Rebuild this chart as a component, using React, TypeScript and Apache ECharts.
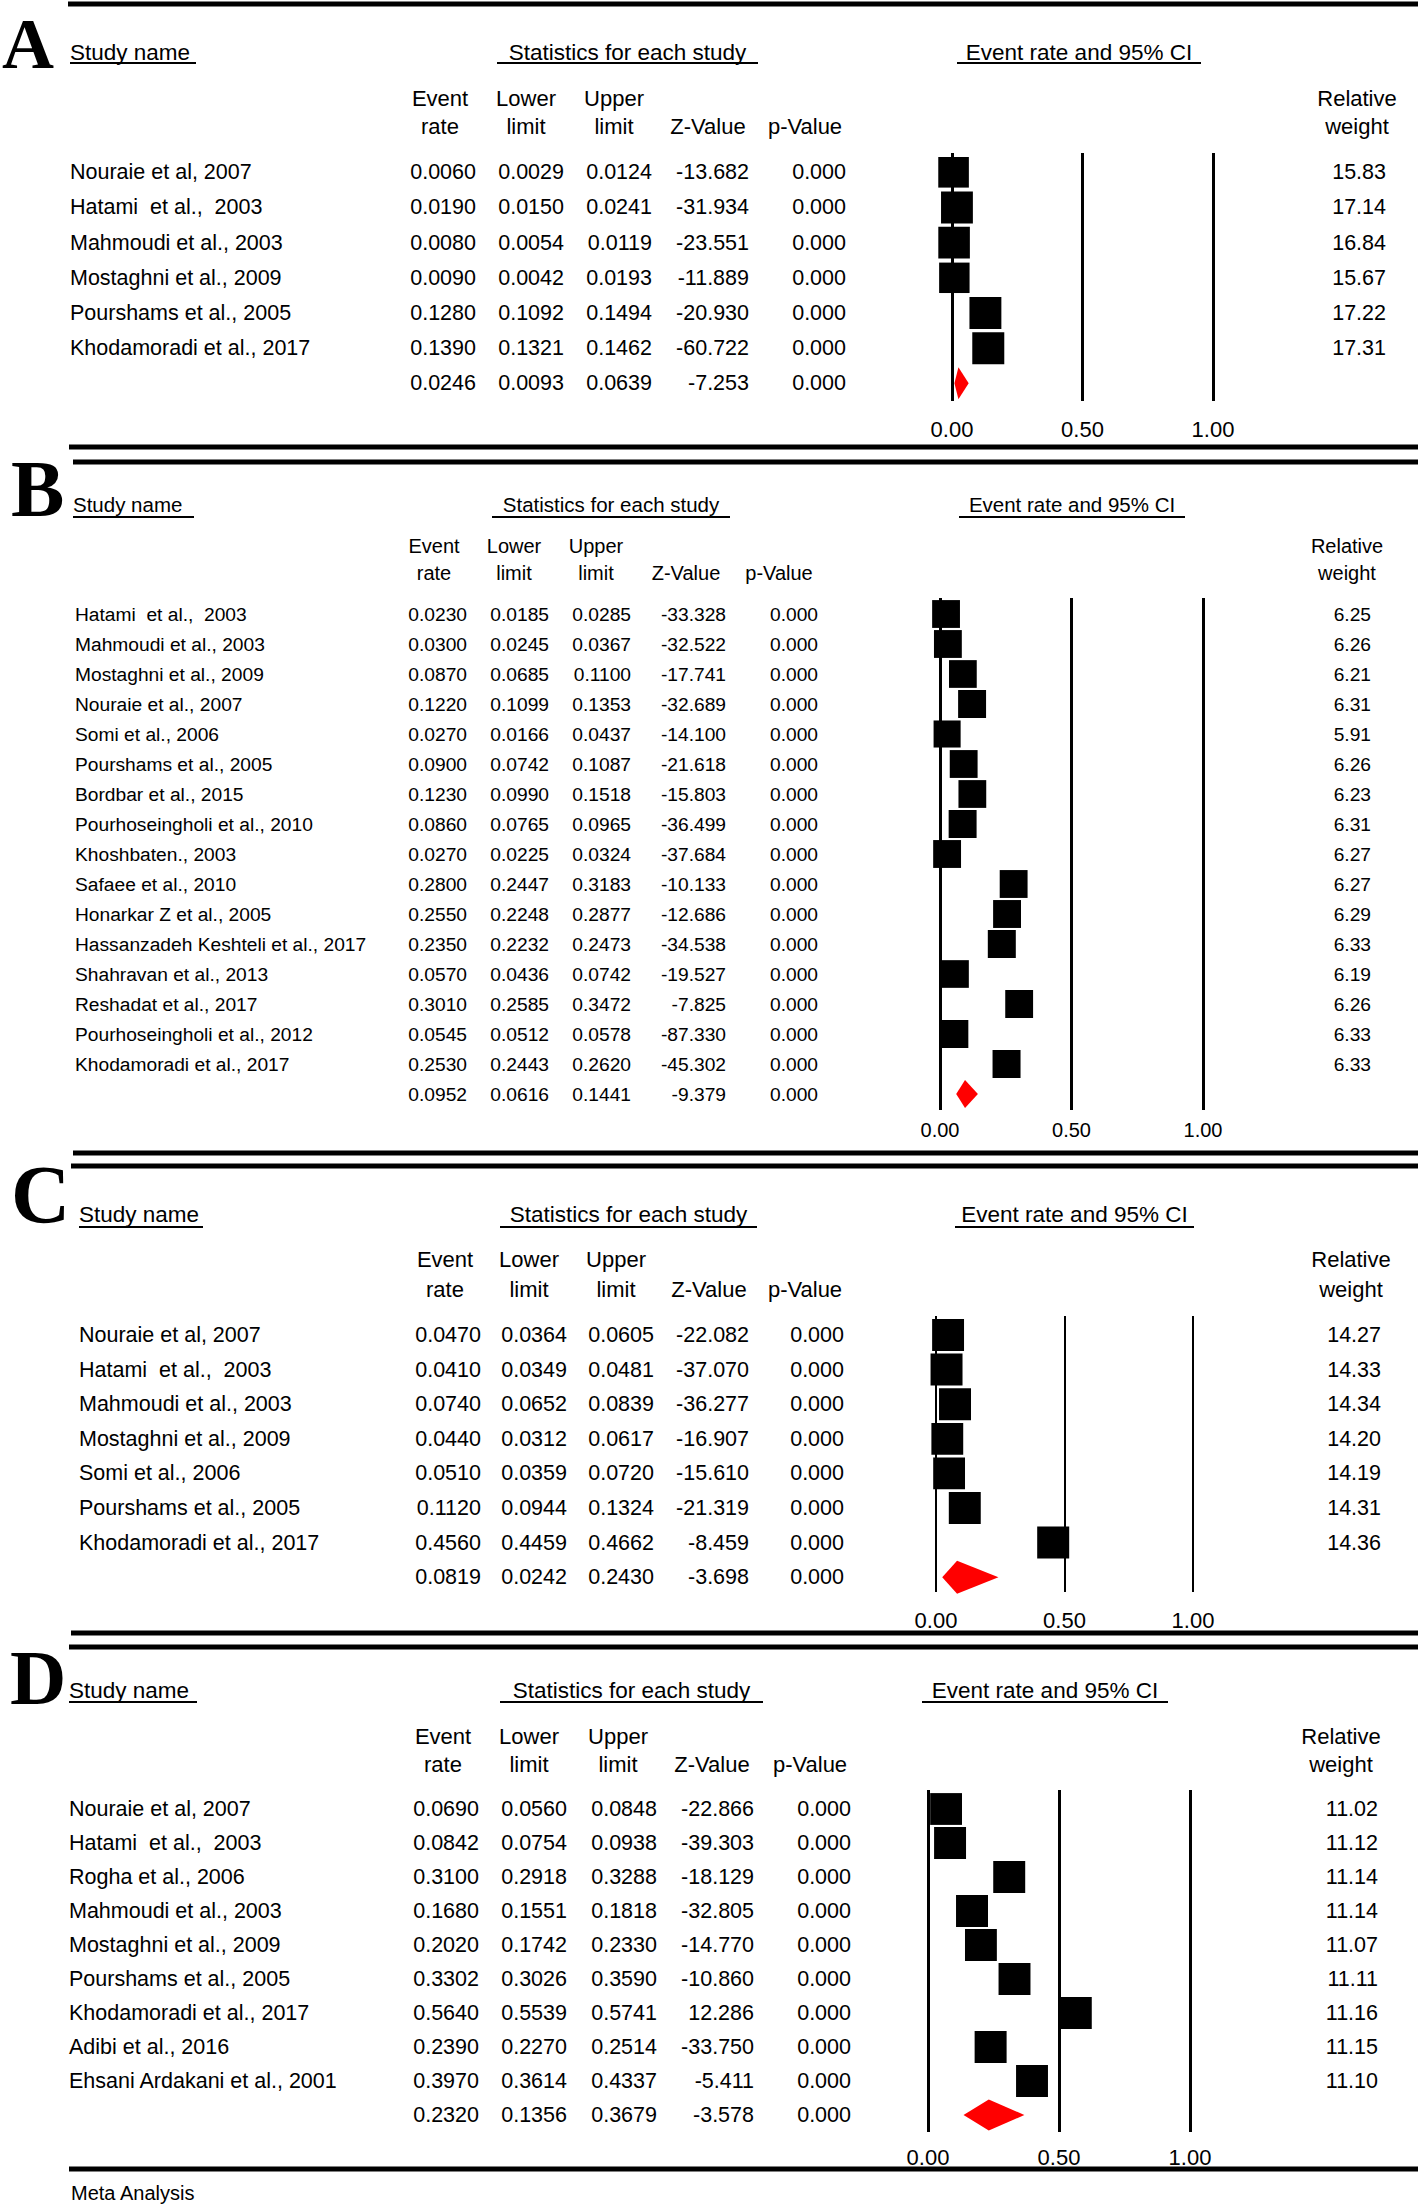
import React, { useEffect, useRef } from "react";
import * as echarts from "echarts";

const PAGE_W = 1418;
const PAGE_H = 2207;
const SANS = '"Liberation Sans", Arial, Helvetica, sans-serif';
const SERIF = '"Liberation Serif", "Times New Roman", Times, serif';

// ---------------- Panel A ----------------
const namesA = ["Nouraie et al, 2007", "Hatami  et al.,  2003", "Mahmoudi et al., 2003", "Mostaghni et al., 2009", "Pourshams et al., 2005", "Khodamoradi et al., 2017"];
const rateA = [0.006, 0.019, 0.008, 0.009, 0.128, 0.139];
const lowerA = [0.0029, 0.015, 0.0054, 0.0042, 0.1092, 0.1321];
const upperA = [0.0124, 0.0241, 0.0119, 0.0193, 0.1494, 0.1462];
const zA = [-13.682, -31.934, -23.551, -11.889, -20.93, -60.722];
const pA = [0, 0, 0, 0, 0, 0];
const weightA = [15.83, 17.14, 16.84, 15.67, 17.22, 17.31];
const summaryA = [0.0246, 0.0093, 0.0639, -7.253, 0];

// ---------------- Panel B ----------------
const namesB = ["Hatami  et al.,  2003", "Mahmoudi et al., 2003", "Mostaghni et al., 2009", "Nouraie et al., 2007", "Somi et al., 2006", "Pourshams et al., 2005", "Bordbar et al., 2015", "Pourhoseingholi et al., 2010", "Khoshbaten., 2003", "Safaee et al., 2010", "Honarkar Z et al., 2005", "Hassanzadeh Keshteli et al., 2017", "Shahravan et al., 2013", "Reshadat et al., 2017", "Pourhoseingholi et al., 2012", "Khodamoradi et al., 2017"];
const rateB = [0.023, 0.03, 0.087, 0.122, 0.027, 0.09, 0.123, 0.086, 0.027, 0.28, 0.255, 0.235, 0.057, 0.301, 0.0545, 0.253];
const lowerB = [0.0185, 0.0245, 0.0685, 0.1099, 0.0166, 0.0742, 0.099, 0.0765, 0.0225, 0.2447, 0.2248, 0.2232, 0.0436, 0.2585, 0.0512, 0.2443];
const upperB = [0.0285, 0.0367, 0.11, 0.1353, 0.0437, 0.1087, 0.1518, 0.0965, 0.0324, 0.3183, 0.2877, 0.2473, 0.0742, 0.3472, 0.0578, 0.262];
const zB = [-33.328, -32.522, -17.741, -32.689, -14.1, -21.618, -15.803, -36.499, -37.684, -10.133, -12.686, -34.538, -19.527, -7.825, -87.33, -45.302];
const pB = [0, 0, 0, 0, 0, 0, 0, 0, 0, 0, 0, 0, 0, 0, 0, 0];
const weightB = [6.25, 6.26, 6.21, 6.31, 5.91, 6.26, 6.23, 6.31, 6.27, 6.27, 6.29, 6.33, 6.19, 6.26, 6.33, 6.33];
const summaryB = [0.0952, 0.0616, 0.1441, -9.379, 0];

// ---------------- Panel C ----------------
const namesC = ["Nouraie et al, 2007", "Hatami  et al.,  2003", "Mahmoudi et al., 2003", "Mostaghni et al., 2009", "Somi et al., 2006", "Pourshams et al., 2005", "Khodamoradi et al., 2017"];
const rateC = [0.047, 0.041, 0.074, 0.044, 0.051, 0.112, 0.456];
const lowerC = [0.0364, 0.0349, 0.0652, 0.0312, 0.0359, 0.0944, 0.4459];
const upperC = [0.0605, 0.0481, 0.0839, 0.0617, 0.072, 0.1324, 0.4662];
const zC = [-22.082, -37.07, -36.277, -16.907, -15.61, -21.319, -8.459];
const pC = [0, 0, 0, 0, 0, 0, 0];
const weightC = [14.27, 14.33, 14.34, 14.2, 14.19, 14.31, 14.36];
const summaryC = [0.0819, 0.0242, 0.243, -3.698, 0];

// ---------------- Panel D ----------------
const namesD = ["Nouraie et al, 2007", "Hatami  et al.,  2003", "Rogha et al., 2006", "Mahmoudi et al., 2003", "Mostaghni et al., 2009", "Pourshams et al., 2005", "Khodamoradi et al., 2017", "Adibi et al., 2016", "Ehsani Ardakani et al., 2001"];
const rateD = [0.069, 0.0842, 0.31, 0.168, 0.202, 0.3302, 0.564, 0.239, 0.397];
const lowerD = [0.056, 0.0754, 0.2918, 0.1551, 0.1742, 0.3026, 0.5539, 0.227, 0.3614];
const upperD = [0.0848, 0.0938, 0.3288, 0.1818, 0.233, 0.359, 0.5741, 0.2514, 0.4337];
const zD = [-22.866, -39.303, -18.129, -32.805, -14.77, -10.86, 12.286, -33.75, -5.411];
const pD = [0, 0, 0, 0, 0, 0, 0, 0, 0];
const weightD = [11.02, 11.12, 11.14, 11.14, 11.07, 11.11, 11.16, 11.15, 11.1];
const summaryD = [0.232, 0.1356, 0.3679, -3.578, 0];

// Axis
const axisMin = 0;
const axisMax = 1;
const axisStep = 0.5;

// Header texts
const headStudy = "Study name";
const headStats = "Statistics for each study";
const headCI = "Event rate and 95% CI";
const colHeadTop = ["Event", "Lower", "Upper", "", "", "Relative"];
const colHeadBottom = ["rate", "limit", "limit", "Z-Value", "p-Value", "weight"];
const footerText = "Meta Analysis";

// ---------------- Layout (positions / styles) ----------------
const panels = [
  {
    d: { names: namesA, rate: rateA, lower: lowerA, upper: upperA, z: zA, p: pA, weight: weightA, summary: summaryA },
    L: {
      letter: "A", letterX: 2, letterY: 44, letterSize: 72,
      headY: 52, ulY: 63, headSize: 22.5,
      ulStudy: [70, 196], ulStat: [497, 758], ulCI: [957, 1201],
      colY: [98, 126], colSize: 22, colX: [440, 526, 614, 708, 805, 1357],
      nameX: 70, rowSize: 21.5, right: [476, 564, 652, 749, 846, 1386],
      row0: 172.3, step: 35.17,
      fx0: 952, fx1: 1213, top: 153, bottom: 401, lineW: 3, labelMargin: 17, labelSize: 22,
      sq: 32, dia: 32,
    },
  },
  {
    d: { names: namesB, rate: rateB, lower: lowerB, upper: upperB, z: zB, p: pB, weight: weightB, summary: summaryB },
    L: {
      letter: "B", letterX: 11, letterY: 489, letterSize: 80,
      headY: 504, ulY: 517, headSize: 20.5,
      ulStudy: [73, 194], ulStat: [492, 730], ulCI: [959, 1185],
      colY: [546, 573], colSize: 20, colX: [434, 514, 596, 686, 779, 1347],
      nameX: 75, rowSize: 19.2, right: [467, 549, 631, 726, 818, 1371],
      row0: 614, step: 30.0,
      fx0: 940, fx1: 1203, top: 598, bottom: 1110, lineW: 3, labelMargin: 10, labelSize: 20,
      sq: 28, dia: 28,
    },
  },
  {
    d: { names: namesC, rate: rateC, lower: lowerC, upper: upperC, z: zC, p: pC, weight: weightC, summary: summaryC },
    L: {
      letter: "C", letterX: 11, letterY: 1194, letterSize: 82,
      headY: 1214, ulY: 1227, headSize: 22.5,
      ulStudy: [79, 203], ulStat: [500, 757], ulCI: [955, 1194],
      colY: [1259, 1289], colSize: 22, colX: [445, 529, 616, 709, 805, 1351],
      nameX: 79, rowSize: 21.5, right: [481, 567, 654, 749, 844, 1381],
      row0: 1335, step: 34.6,
      fx0: 936, fx1: 1193, top: 1316, bottom: 1592, lineW: 2, labelMargin: 17, labelSize: 22,
      sq: 32, dia: 33,
    },
  },
  {
    d: { names: namesD, rate: rateD, lower: lowerD, upper: upperD, z: zD, p: pD, weight: weightD, summary: summaryD },
    L: {
      letter: "D", letterX: 10, letterY: 1677, letterSize: 78,
      headY: 1690, ulY: 1702, headSize: 22.5,
      ulStudy: [69, 197], ulStat: [500, 763], ulCI: [922, 1168],
      colY: [1736, 1764], colSize: 22, colX: [443, 529, 618, 712, 810, 1341],
      nameX: 69, rowSize: 21.5, right: [479, 567, 657, 754, 851, 1378],
      row0: 1809, step: 34.0,
      fx0: 928, fx1: 1190, top: 1790, bottom: 2132, lineW: 3, labelMargin: 14, labelSize: 22,
      sq: 32, dia: 31,
    },
  },
];

const rules = [[4, 68], [447, 69], [462, 73], [1153, 73], [1166, 71], [1633, 71], [1647, 69], [2169, 69]];
const footer = { x: 71, y: 2193, size: 20 };

function buildOption() {
  const grids: any[] = [];
  const xAxes: any[] = [];
  const yAxes: any[] = [];
  const series: any[] = [];
  const graphics: any[] = [];

  rules.forEach(([y, x0]) => {
    graphics.push({ type: "line", z: 100, shape: { x1: x0, y1: y, x2: PAGE_W, y2: y }, style: { stroke: "#000", lineWidth: 5 } });
  });

  panels.forEach(({ d, L }, k) => {
    // letter
    graphics.push({ type: "text", z: 100, x: L.letterX, y: L.letterY, style: { text: L.letter, fontFamily: SERIF, fontWeight: "bold", fontSize: L.letterSize, fill: "#000", align: "left", verticalAlign: "middle" } });
    // section headers
    const hs = { fontFamily: SANS, fontSize: L.headSize, fill: "#000", verticalAlign: "middle" };
    graphics.push({ type: "text", z: 100, x: L.ulStudy[0], y: L.headY, style: { ...hs, text: headStudy, align: "left" } });
    graphics.push({ type: "text", z: 100, x: (L.ulStat[0] + L.ulStat[1]) / 2, y: L.headY, style: { ...hs, text: headStats, align: "center" } });
    graphics.push({ type: "text", z: 100, x: (L.ulCI[0] + L.ulCI[1]) / 2, y: L.headY, style: { ...hs, text: headCI, align: "center" } });
    [L.ulStudy, L.ulStat, L.ulCI].forEach((u) => {
      graphics.push({ type: "line", z: 100, shape: { x1: u[0], y1: L.ulY, x2: u[1], y2: L.ulY }, style: { stroke: "#000", lineWidth: 2 } });
    });
    // column headers
    const cs = { fontFamily: SANS, fontSize: L.colSize, fill: "#000", verticalAlign: "middle", align: "center" };
    colHeadTop.forEach((t, j) => {
      if (t) graphics.push({ type: "text", z: 100, x: L.colX[j], y: L.colY[0], style: { ...cs, text: t } });
    });
    colHeadBottom.forEach((t, j) => {
      graphics.push({ type: "text", z: 100, x: L.colX[j], y: L.colY[1], style: { ...cs, text: t } });
    });

    const n = d.names.length;
    grids.push({ left: L.fx0, width: L.fx1 - L.fx0, top: L.top, height: L.bottom - L.top, show: false, containLabel: false, outerBoundsMode: "none" });
    xAxes.push({
      type: "value", gridIndex: k, min: axisMin, max: axisMax, interval: axisStep,
      axisLine: { show: false }, axisTick: { show: false },
      splitLine: { show: true, showMinLine: true, showMaxLine: true, lineStyle: { color: "#000", width: L.lineW } },
      axisLabel: { formatter: (v: number) => v.toFixed(2), fontFamily: SANS, fontSize: L.labelSize, color: "#000", margin: L.labelMargin },
    });
    yAxes.push({
      type: "value", gridIndex: k, inverse: true, show: false,
      min: (L.top - L.row0) / L.step, max: (L.bottom - L.row0) / L.step,
      splitLine: { show: false },
    });
    const wmax = Math.max(...d.weight);
    const data = d.rate.map((r, i) => [r, i]).concat([[d.summary[0], n]]);
    series.push({
      type: "custom", xAxisIndex: k, yAxisIndex: k, clip: false, silent: true,
      encode: { x: 0, y: 1 },
      data,
      renderItem: (params: any, api: any) => {
        const i = params.dataIndex;
        const isSum = i === n;
        const rate = api.value(0);
        const row = api.value(1);
        const c = api.coord([rate, row]);
        const cx = c[0];
        const cy = c[1];
        const lo = isSum ? d.summary[1] : d.lower[i];
        const up = isSum ? d.summary[2] : d.upper[i];
        const z = isSum ? d.summary[3] : d.z[i];
        const p = isSum ? d.summary[4] : d.p[i];
        const xl = api.coord([lo, row])[0];
        const xu = api.coord([up, row])[0];
        const txt = (x: number, s: string, align: string) => ({
          type: "text", x, y: cy,
          style: { text: s, fontFamily: SANS, fontSize: L.rowSize, fill: "#000", align, verticalAlign: "middle" },
        });
        const children: any[] = [];
        if (!isSum) children.push(txt(L.nameX, d.names[i], "left"));
        children.push(txt(L.right[0], rate.toFixed(4), "right"));
        children.push(txt(L.right[1], lo.toFixed(4), "right"));
        children.push(txt(L.right[2], up.toFixed(4), "right"));
        children.push(txt(L.right[3], z.toFixed(3), "right"));
        children.push(txt(L.right[4], p.toFixed(3), "right"));
        if (!isSum) {
          children.push(txt(L.right[5], d.weight[i].toFixed(2), "right"));
          const s = L.sq * Math.sqrt(d.weight[i] / wmax);
          children.push({ type: "line", shape: { x1: xl, y1: cy, x2: xu, y2: cy }, style: { stroke: "#000", lineWidth: 2 } });
          children.push({ type: "rect", shape: { x: cx - s / 2, y: cy - s / 2, width: s, height: s }, style: { fill: "#000" } });
        } else {
          const h = L.dia / 2;
          children.push({ type: "polygon", shape: { points: [[xl, cy], [cx, cy - h], [xu, cy], [cx, cy + h]] }, style: { fill: "#ff0000" } });
        }
        return { type: "group", children };
      },
    });
  });

  graphics.push({ type: "text", z: 100, x: footer.x, y: footer.y, style: { text: footerText, fontFamily: SANS, fontSize: footer.size, fill: "#000", align: "left", verticalAlign: "middle" } });

  return {
    animation: false,
    backgroundColor: "#ffffff",
    grid: grids,
    xAxis: xAxes,
    yAxis: yAxes,
    series,
    graphic: graphics,
  };
}

export default function App() {
  const ref = useRef<HTMLDivElement>(null);
  useEffect(() => {
    document.body.style.margin = "0";
    const chart = echarts.init(ref.current as HTMLDivElement, undefined, { renderer: "svg", width: PAGE_W, height: PAGE_H });
    chart.setOption(buildOption() as any);
    return () => chart.dispose();
  }, []);
  return <div ref={ref} style={{ position: "absolute", left: 0, top: 0, width: PAGE_W, height: PAGE_H, background: "#fff" }} />;
}
